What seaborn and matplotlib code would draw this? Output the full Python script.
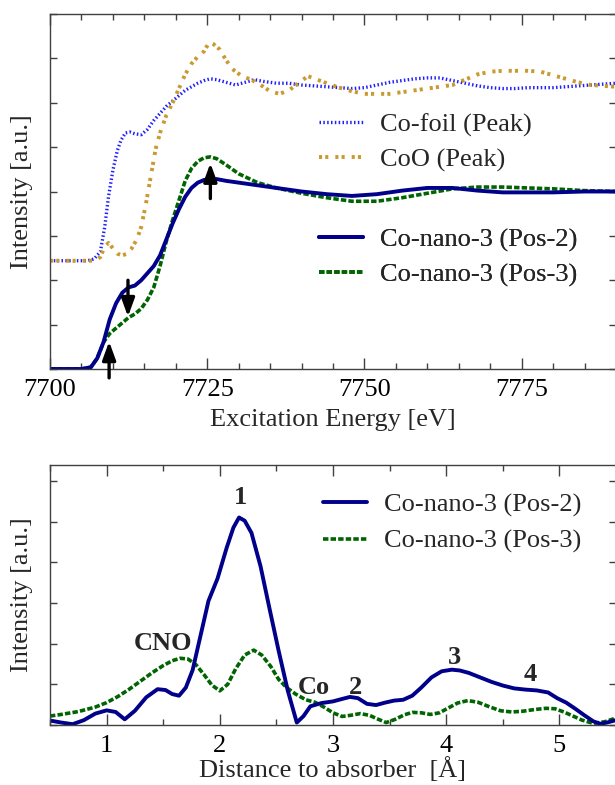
import numpy as np
import pandas as pd
import matplotlib
matplotlib.use("Agg")
import matplotlib.pyplot as plt
from matplotlib.ticker import MultipleLocator
import seaborn as sns

sns.set_theme(style="ticks")
plt.rcParams['font.family'] = ['Liberation Serif', 'DejaVu Serif']

# ---------------- XANES (top) ----------------
pos2_x = [7700, 7705, 7706.5, 7707.5, 7708.5, 7709.5, 7710.5, 7711.5, 7712.5, 7713.5,
          7714.5, 7715.5, 7716.5, 7717.5, 7718.5, 7719.5, 7720.5, 7721.5, 7722.5, 7723.5,
          7724.5, 7725.5, 7726.5, 7728, 7730, 7733, 7736, 7740, 7744, 7748, 7752, 7756,
          7760, 7764, 7768, 7772, 7776, 7780, 7785, 7790]
pos2_y = [0, 0, 0.01, 0.06, 0.15, 0.28, 0.37, 0.43, 0.46, 0.47,
          0.50, 0.54, 0.58, 0.64, 0.73, 0.82, 0.90, 0.97, 1.02, 1.05,
          1.065, 1.07, 1.07, 1.06, 1.05, 1.035, 1.02, 1.0, 0.985, 0.975, 0.985, 1.005,
          1.02, 1.02, 1.005, 0.995, 0.995, 0.995, 1.0, 1.0]

pos3_x = pos2_x
pos3_y = [0, 0, 0.01, 0.06, 0.15, 0.20, 0.23, 0.26, 0.29, 0.31,
          0.34, 0.39, 0.46, 0.58, 0.72, 0.84, 0.95, 1.06, 1.13, 1.17,
          1.19, 1.195, 1.185, 1.15, 1.10, 1.05, 1.02, 0.99, 0.965, 0.945, 0.945, 0.965,
          0.99, 1.015, 1.025, 1.025, 1.02, 1.015, 1.005, 1.0]

foil_x = [7700, 7706, 7707, 7708, 7708.7, 7709.3, 7710, 7710.7, 7711.3, 7712, 7712.7,
          7713.5, 7714.5, 7715.5, 7716.5, 7717.5, 7718.5, 7719.5, 7720.5, 7721.5, 7722.5,
          7723.5, 7724.5, 7725.5, 7726.5, 7728, 7729.5, 7731, 7732.5, 7734, 7736, 7738,
          7740, 7742, 7744, 7746, 7748, 7750, 7752, 7754, 7756, 7758, 7760, 7762, 7764,
          7766, 7768, 7770, 7772, 7774, 7776, 7778, 7780, 7782, 7784, 7786, 7788, 7790]
foil_y = [0.61, 0.61, 0.62, 0.66, 0.80, 0.97, 1.12, 1.23, 1.29, 1.33, 1.335,
          1.325, 1.32, 1.35, 1.40, 1.44, 1.48, 1.51, 1.54, 1.57, 1.59,
          1.61, 1.625, 1.635, 1.63, 1.615, 1.60, 1.615, 1.63, 1.62, 1.61, 1.61,
          1.60, 1.595, 1.59, 1.585, 1.58, 1.585, 1.60, 1.615, 1.625, 1.635, 1.64, 1.64, 1.625,
          1.61, 1.595, 1.585, 1.58, 1.58, 1.585, 1.585, 1.585, 1.59, 1.595, 1.60, 1.605, 1.61]

coo_x = [7700, 7707, 7708, 7708.7, 7709.3, 7710, 7710.7, 7711.5, 7712.3, 7713, 7713.8,
         7714.5, 7715.2, 7716, 7716.8, 7717.5, 7718.5, 7719.5, 7720.5, 7721.5, 7722.5,
         7723.5, 7724.5, 7725.3, 7726, 7727, 7728, 7729, 7730.5, 7732, 7733.5, 7735,
         7736.5, 7738, 7739.5, 7741, 7742.5, 7744, 7746, 7748, 7750, 7752, 7754, 7756,
         7758, 7760, 7762, 7764, 7766, 7768, 7770, 7772, 7774, 7776, 7778, 7780, 7782,
         7784, 7786, 7788, 7790]
coo_y = [0.61, 0.61, 0.63, 0.69, 0.71, 0.68, 0.65, 0.64, 0.65, 0.68, 0.73,
         0.80, 0.92, 1.08, 1.24, 1.33, 1.43, 1.50, 1.58, 1.66, 1.72,
         1.76, 1.79, 1.84, 1.83, 1.80, 1.74, 1.69, 1.65, 1.63, 1.60, 1.565,
         1.55, 1.57, 1.61, 1.65, 1.63, 1.61, 1.585, 1.565, 1.55, 1.55, 1.55, 1.56,
         1.57, 1.58, 1.59, 1.60, 1.63, 1.66, 1.675, 1.68, 1.68, 1.68, 1.675, 1.655, 1.635,
         1.615, 1.60, 1.595, 1.59]

arrow_x = [7709.4, 7712.4, 7725.5]
arrow_tail = [-0.05, 0.50, 0.96]
arrow_head = [0.155, 0.295, 1.16]

xanes_labels = ["Co-foil (Peak)", "CoO (Peak)", "Co-nano-3 (Pos-2)", "Co-nano-3 (Pos-3)"]
xanes_xticks = [7700, 7725, 7750, 7775]

# ---------------- FT-EXAFS (bottom) ----------------
ft2_x = [0.5, 0.6, 0.7, 0.8, 0.9, 1.0, 1.08, 1.16, 1.25, 1.35, 1.45, 1.52, 1.58, 1.64,
         1.7, 1.76, 1.83, 1.9, 1.98, 2.06, 2.12, 2.17, 2.22, 2.28, 2.36, 2.44, 2.52, 2.6,
         2.68, 2.74, 2.8, 2.9, 3.0, 3.08, 3.15, 3.22, 3.3, 3.38, 3.46, 3.54, 3.62, 3.7,
         3.78, 3.87, 3.96, 4.05, 4.12, 4.2, 4.3, 4.4, 4.5, 4.6, 4.7, 4.8, 4.9, 4.98, 5.06,
         5.14, 5.22, 5.3, 5.36, 5.42, 5.5]
ft2_y = [0.11, 0.06, 0.02, 0.12, 0.28, 0.36, 0.32, 0.14, 0.35, 0.68, 0.88, 0.86, 0.76, 0.72,
         0.92, 1.35, 2.2, 3.05, 3.6, 4.35, 4.85, 5.1, 5.02, 4.72, 3.9, 2.85, 1.82, 0.85,
         0.06, 0.22, 0.46, 0.54, 0.58, 0.64, 0.69, 0.66, 0.52, 0.49, 0.55, 0.60, 0.62, 0.72,
         0.92, 1.17, 1.32, 1.36, 1.34, 1.28, 1.17, 1.06, 0.97, 0.90, 0.87, 0.85, 0.80, 0.66, 0.55,
         0.40, 0.24, 0.09, 0.03, 0.06, 0.12]

ft3_x = [0.5, 0.6, 0.75, 0.9, 1.0, 1.1, 1.2, 1.3, 1.4, 1.5, 1.58, 1.65, 1.72, 1.79, 1.86,
         1.93, 2.0, 2.07, 2.14, 2.22, 2.3, 2.37, 2.45, 2.52, 2.59, 2.67, 2.76, 2.84, 2.92,
         3.0, 3.08, 3.16, 3.24, 3.32, 3.4, 3.47, 3.55, 3.63, 3.7, 3.78, 3.86, 3.94, 4.02,
         4.1, 4.19, 4.28, 4.38, 4.48, 4.58, 4.68, 4.78, 4.88, 4.96, 5.04, 5.12, 5.2, 5.3,
         5.4, 5.5]
ft3_y = [0.22, 0.26, 0.33, 0.44, 0.55, 0.70, 0.88, 1.08, 1.28, 1.46, 1.58, 1.64, 1.62, 1.48, 1.24,
         0.98, 0.84, 1.0, 1.38, 1.72, 1.84, 1.72, 1.44, 1.12, 0.92, 0.76, 0.62, 0.56, 0.44,
         0.30, 0.21, 0.24, 0.28, 0.24, 0.14, 0.06, 0.14, 0.25, 0.31, 0.30, 0.26, 0.30, 0.42,
         0.54, 0.60, 0.56, 0.45, 0.35, 0.32, 0.34, 0.38, 0.41, 0.40, 0.32, 0.22, 0.12, 0.04,
         0.08, 0.17]

peak_labels = ["CNO", "1", "Co", "2", "3", "4"]
peak_x = [1.5, 2.18, 2.83, 3.2, 4.07, 4.74]
peak_y = [2.0, 5.6, 0.93, 0.93, 1.67, 1.23]

ft_labels = ["Co-nano-3 (Pos-2)", "Co-nano-3 (Pos-3)"]
ft_xticks = [1, 2, 3, 4, 5]

# ---------------- styles ----------------
C_NAVY = "#00008b"
C_GREEN = "#006400"
C_BLUE = "#2020ff"
C_GOLD = "#c99a2e"
SPINE = "#404040"
FS = 19

W, H = 615, 785
fig = plt.figure(figsize=(W / 100, H / 100), dpi=100)

def rect(l, t, r, b):
    return [l / W, 1 - b / H, (r - l) / W, (b - t) / H]

ax1 = fig.add_axes(rect(50, 14, 616, 369))
ax2 = fig.add_axes(rect(50, 465, 616, 725))

def draw(ax, x, y, color, lw, ls, label):
    df = pd.DataFrame({"x": x, "y": y})
    sns.lineplot(data=df, x="x", y="y", ax=ax, color=color, linewidth=lw,
                 sort=False, estimator=None, label=label)
    line = ax.lines[-1]
    line.set_linestyle(ls)
    return line

l_foil = draw(ax1, foil_x, foil_y, C_BLUE, 2.4, (0, (0.45, 0.7)), xanes_labels[0])
l_coo = draw(ax1, coo_x, coo_y, C_GOLD, 2.8, (0, (0.8, 0.8, 0.8, 1.8)), xanes_labels[1])
l_p3 = draw(ax1, pos3_x, pos3_y, C_GREEN, 2.6, (0, (1.5, 0.6)), xanes_labels[3])
l_p2 = draw(ax1, pos2_x, pos2_y, C_NAVY, 2.8, "-", xanes_labels[2])

for xa, t, h in zip(arrow_x, arrow_tail, arrow_head):
    ax1.annotate("", xy=(xa, h), xytext=(xa, t), annotation_clip=False,
                 arrowprops=dict(arrowstyle="-|>,head_length=0.55,head_width=0.2",
                                 color="black", lw=2.4, shrinkA=0, shrinkB=0,
                                 mutation_scale=20, clip_on=False))

m3 = draw(ax2, ft3_x, ft3_y, C_GREEN, 2.6, (0, (1.5, 0.6)), ft_labels[1])
m2 = draw(ax2, ft2_x, ft2_y, C_NAVY, 2.8, "-", ft_labels[0])

for lab, px, py in zip(peak_labels, peak_x, peak_y):
    ax2.text(px, py, lab, ha="center", va="center", fontsize=FS, fontweight="bold")

# axes formatting
ax1.set_xlim(7700, 7790)
ax1.set_ylim(0, 2)
ax1.set_xticks(xanes_xticks)
ax1.xaxis.set_minor_locator(MultipleLocator(5))
ax1.set_yticks(np.arange(0, 2.01, 0.25))
ax1.set_yticklabels([])

ax2.set_xlim(0.5, 5.5)
ax2.set_ylim(0, 6.39)
ax2.set_xticks(ft_xticks)
ax2.xaxis.set_minor_locator(MultipleLocator(0.5))
ax2.set_yticks(np.arange(0, 6.1, 1))
ax2.set_yticklabels([])

for ax in (ax1, ax2):
    for s in ax.spines.values():
        s.set_color(SPINE)
        s.set_linewidth(1.0)
    ax.tick_params(which="both", direction="in", top=True, right=True,
                   color=SPINE, width=1.0, labelsize=FS, labelcolor="black", pad=7)
    ax.tick_params(axis="x", which="major", length=8)
    ax.tick_params(axis="x", which="minor", length=4.5)
    ax.tick_params(axis="y", which="major", length=5)
    ax.set_ylabel("Intensity [a.u.]", fontsize=FS)
    ax.yaxis.set_label_coords(-0.03, 0.5)
    if ax.get_legend():
        ax.get_legend().remove()

ax1.set_xlabel("Excitation Energy [eV]", fontsize=FS, labelpad=6)
ax2.set_xlabel("Distance to absorber  [Å]", fontsize=FS, labelpad=0.5)

leg_kw = dict(frameon=False, fontsize=FS, handlelength=1.67, handletextpad=0.64,
              labelspacing=0.41, borderpad=0, borderaxespad=0, loc="upper left")
leg1 = ax1.legend(handles=[l_foil, l_coo], labels=xanes_labels[:2],
                  bbox_to_anchor=(319 / W, 1 - 113 / H), bbox_transform=fig.transFigure, **leg_kw)
ax1.add_artist(leg1)
leg2 = ax1.legend(handles=[l_p2, l_p3], labels=xanes_labels[2:],
                  bbox_to_anchor=(319 / W, 1 - 228 / H), bbox_transform=fig.transFigure, **leg_kw)
ax1.add_artist(leg2)
leg3 = ax2.legend(handles=[m2, m3], labels=ft_labels,
                  bbox_to_anchor=(323 / W, 1 - 493 / H), bbox_transform=fig.transFigure,
                  **dict(leg_kw, labelspacing=0.47))

fig.savefig("out.png", dpi=100)
